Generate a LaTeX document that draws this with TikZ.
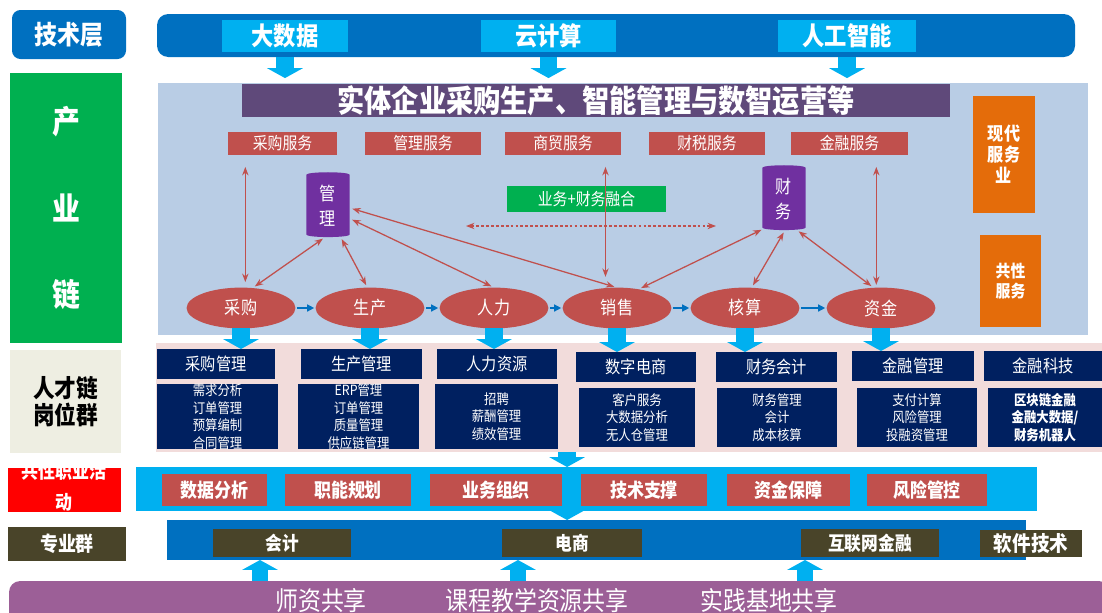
\documentclass[tikz,border=0pt]{standalone}
\usepackage{fontspec}
\setmainfont{Noto Sans CJK SC}[FakeStretch=0.88]
\usetikzlibrary{arrows.meta, positioning, fit, shapes.geometric}

\definecolor{techblue}{HTML}{0070C0}
\definecolor{skyblue}{HTML}{00B0F0}
\definecolor{panelblue}{HTML}{B9CDE5}
\definecolor{titlepurple}{HTML}{5F497A}
\definecolor{servred}{HTML}{C0504D}
\definecolor{servorange}{HTML}{E46C0A}
\definecolor{fusegreen}{HTML}{00B050}
\definecolor{cylpurple}{HTML}{7030A0}
\definecolor{jobpink}{HTML}{F2DCDB}
\definecolor{jobnavy}{HTML}{002060}
\definecolor{majorolive}{HTML}{494429}
\definecolor{talentgray}{HTML}{EEEEE2}
\definecolor{sharepurple}{HTML}{9C5F97}

\newcommand{\fsz}[2]{\fontsize{#1}{#2}\selectfont}

\begin{document}
\begin{tikzpicture}[x=0.025cm, y=-0.025cm,
  plainbox/.style={inner sep=0pt, outer sep=0pt, align=center, text=white},
  servbox/.style={plainbox, fill=servred},
  servtext/.style={plainbox, font=\fsz{12pt}{14pt}},
  toptext/.style={plainbox, font=\bfseries\fsz{18pt}{20pt}},
  ringnode/.style={plainbox, ellipse, fill=servred, minimum width=2.72cm, minimum height=1.02cm, font=\fsz{13pt}{15pt}},
  datanode/.style={plainbox, cylinder, shape border rotate=90, aspect=0.3, fill=cylpurple, minimum width=1.08cm, minimum height=1.62cm, font=\fsz{13pt}{17.5pt}},
  jobhead/.style={plainbox, fill=jobnavy},
  headtext/.style={plainbox, font=\fsz{12.3pt}{14pt}},
  jobdetail/.style={plainbox, fill=jobnavy},
  detailtext/.style={plainbox, font=\fsz{10pt}{12.5pt}},
  actbox/.style={plainbox, fill=servred},
  acttext/.style={plainbox, font=\bfseries\fsz{13.7pt}{16pt}},
  majorbox/.style={plainbox, fill=majorolive},
  majortext/.style={plainbox, font=\bfseries\fsz{13.5pt}{16pt}},
  blockarrow/.style={draw=skyblue, line width=12.5pt, -{Triangle[width=25pt, length=7pt]}},
  flowarrow/.style={draw=techblue, line width=1pt, -{Triangle[width=5pt, length=5pt]}, shorten <=1pt, shorten >=1pt},
  linkarrow/.style={draw=servred, line width=0.9pt, {Stealth[length=6pt, width=4.5pt]}-{Stealth[length=6pt, width=4.5pt]}, shorten <=2pt, shorten >=2pt},
]
\useasboundingbox (0,0) rectangle (1102,612);

% left column
\node[plainbox, fill=techblue, rounded corners=6pt, fit={(12,10)(126,59)},
  label={[plainbox, font=\bfseries\fsz{18.5pt}{20pt}]center:技术层}] (tech) {};
\node[plainbox, fill=fusegreen, fit={(10,73)(122,343)},
  label={[plainbox, font=\bfseries\fsz{22.5pt}{61.7pt}]center:产\\业\\链}] (chain) {};
\node[plainbox, fill=talentgray, fit={(10,350)(121,453)},
  label={[plainbox, text=black, font=\bfseries\fsz{17.5pt}{19.5pt}]center:人才链\\岗位群}] (talent) {};
\node[plainbox, fill=red, fit={(8,468)(121,512)}] (act) {};
\node[plainbox, font=\bfseries\fsz{13.7pt}{22pt}] (acttxt) at (64,487) {共性职业活\\动};
\node[plainbox, fill=majorolive, fit={(8,527)(126,561)},
  label={[plainbox, font=\bfseries\fsz{14.5pt}{16pt}]center:专业群}] (major) {};

% technology layer
\node[plainbox, fill=techblue, rounded corners=8pt, fit={(157,14)(1075,57)}] (topbar) {};
\node[plainbox, fill=skyblue, fit={(222,20)(348,52)}, label={[toptext]center:大数据}] (bigdata) {};
\node[plainbox, fill=skyblue, fit={(481,20)(616,52)}, label={[toptext]center:云计算}] (cloud) {};
\node[plainbox, fill=skyblue, fit={(778,20)(916,52)}, label={[toptext]center:人工智能}] (ai) {};

% industry chain panel
\node[plainbox, fill=panelblue, fit={(158,83)(1088,335)}] (panel) {};
\foreach \t in {bigdata, cloud, ai}
  \draw[blockarrow, shorten >=3.5pt] (\t.south |- topbar.south) -- (\t.south |- panel.north);
\node[plainbox, fill=titlepurple, fit={(242,84)(950,117)},
  label={[plainbox, font=\bfseries\fsz{22pt}{24pt}]center:实体企业采购生产、智能管理与数智运营等}] (title) {};

\node[servbox, fit={(228,132)(337,155)}, label={[servtext]center:采购服务}] (cgfw) {};
\node[servbox, fit={(365,132)(481,155)}, label={[servtext]center:管理服务}] (glfw) {};
\node[servbox, fit={(505,132)(621,155)}, label={[servtext]center:商贸服务}] (smfw) {};
\node[servbox, fit={(649,132)(765,155)}, label={[servtext]center:财税服务}] (csfw) {};
\node[servbox, fit={(791,132)(908,155)}, label={[servtext]center:金融服务}] (jrfw) {};

\node[plainbox, fill=servorange, fit={(973,96)(1035,213)},
  label={[plainbox, font=\bfseries\fsz{13pt}{15pt}]center:现代\\服务\\业}] (modern) {};
\node[plainbox, fill=servorange, fit={(980,235)(1041,327)},
  label={[plainbox, font=\bfseries\fsz{12pt}{14.5pt}]center:共性\\服务}] (common) {};

\node[plainbox, fill=fusegreen, fit={(507,186)(666,212)}, label={[servtext]center:业务+财务融合}] (fuse) {};
\coordinate (fuseL) at (466,226);
\coordinate (fuseR) at (716,226);
\draw[servred, line width=0.8pt, dash pattern=on 2pt off 1.5pt, {Stealth[length=6pt, width=4.5pt]}-{Stealth[length=6pt, width=4.5pt]}] (fuseL) -- (fuseR);

\node[datanode] (mgmt) at (328,206) {管\\理};
\node[datanode] (fin) at (784,199) {财\\务};

\node[ringnode] (cg) at (241,308) {采购};
\node[ringnode] (sc) at (370,308) {生产};
\node[ringnode] (rl) at (494,308) {人力};
\node[ringnode] (xs) at (617,308) {销售};
\node[ringnode] (hs) at (745,308) {核算};
\node[ringnode] (zj) at (881,308) {资金};

\foreach \a/\b in {cg/sc, sc/rl, rl/xs, xs/hs, hs/zj}
  \draw[flowarrow] (\a) -- (\b);

% links to management and finance
\draw[linkarrow, shorten <=8.5pt, shorten >=4pt] (cgfw.south -| cg.78) -- (cg.78);
\draw[linkarrow] (mgmt.-95) -- (cg.60);
\draw[linkarrow] (mgmt.-68) -- (sc.97);
\draw[linkarrow] (mgmt.-30) -- (rl.north);
\draw[linkarrow] (mgmt.-5) -- (xs.north);
\draw[linkarrow, shorten <=8.5pt, shorten >=8pt] (smfw.south -| xs.120) -- (xs.120);
\draw[linkarrow] (xs.41) -- (fin.-124);
\draw[linkarrow] (hs.72) -- (fin.-88);
\draw[linkarrow] (fin.-68) -- (zj.110);
\draw[linkarrow, shorten <=8.5pt] (jrfw.south -| zj.103) -- (zj.103);

% talent chain posts
\node[plainbox, fill=jobpink, fit={(156,343)(1102,452)}] (jobband) {};
\node[jobhead, fit={(157,349)(275,379)}, label={[headtext]center:采购管理}] (cgh) {};
\node[jobhead, fit={(301,349)(422,379)}, label={[headtext]center:生产管理}] (sch) {};
\node[jobhead, fit={(437,349)(557,379)}, label={[headtext]center:人力资源}] (rlh) {};
\node[jobhead, fit={(576,352)(696,382)}, label={[headtext]center:数字电商}] (dsh) {};
\node[jobhead, fit={(716,352)(837,382)}, label={[headtext]center:财务会计}] (cwh) {};
\node[jobhead, fit={(852,351)(974,381)}, label={[headtext]center:金融管理}] (jrh) {};
\node[jobhead, fit={(984,351)(1102,381)}, label={[headtext]center:金融科技}] (kjh) {};

\node[jobdetail, fit={(157,384)(278,449)}, label={[detailtext]center:需求分析\\订单管理\\预算编制\\合同管理}] (cgd) {};
\node[jobdetail, fit={(298,384)(419,449)}, label={[detailtext]center:ERP管理\\订单管理\\质量管理\\供应链管理}] (scd) {};
\node[jobdetail, fit={(435,384)(558,449)}, label={[detailtext]center:招聘\\薪酬管理\\绩效管理}] (rld) {};
\node[jobdetail, fit={(579,388)(695,447)}, label={[detailtext]center:客户服务\\大数据分析\\无人仓管理}] (dsd) {};
\node[jobdetail, fit={(717,388)(837,447)}, label={[detailtext]center:财务管理\\会计\\成本核算}] (cwd) {};
\node[jobdetail, fit={(857,388)(977,447)}, label={[detailtext]center:支付计算\\风险管理\\投融资管理}] (jrd) {};
\node[jobdetail, fit={(988,388)(1102,447)}, label={[detailtext, font=\bfseries\fsz{10pt}{12.5pt}]center:区块链金融\\金融大数据/\\财务机器人}] (kjd) {};

\foreach \r/\h in {cg/cgh, sc/sch, rl/rlh, xs/dsh, hs/cwh, zj/jrh}
  \draw[blockarrow] (\r.south) -- (\r.south |- \h.north);

% common activities
\node[plainbox, fill=skyblue, fit={(136,467)(1037,511)}] (actband) {};
\node[actbox, fit={(162,474)(267,506)}, label={[acttext]center:数据分析}] (sjfx) {};
\node[actbox, fit={(285,474)(411,506)}, label={[acttext]center:职能规划}] (zngh) {};
\node[actbox, fit={(430,474)(562,506)}, label={[acttext]center:业务组织}] (ywzz) {};
\node[actbox, fit={(581,474)(707,506)}, label={[acttext]center:技术支撑}] (jszc) {};
\node[actbox, fit={(727,474)(850,506)}, label={[acttext]center:资金保障}] (zjbz) {};
\node[actbox, fit={(867,474)(987,506)}, label={[acttext]center:风险管控}] (fxgk) {};

% majors
\node[plainbox, fill=techblue, fit={(167,520)(1026,560)}] (majband) {};
\node[majorbox, fit={(213,529)(351,557)}, label={[majortext]center:会计}] (kj) {};
\node[majorbox, fit={(502,529)(642,557)}, label={[majortext]center:电商}] (ds) {};
\node[majorbox, fit={(801,529)(939,557)}, label={[majortext]center:互联网金融}] (hljr) {};
\node[majorbox, fit={(980,530)(1082,557)}, label={[majortext, font=\bfseries\fsz{15pt}{16pt}]center:软件技术}] (rjjs) {};

\draw[blockarrow] ([xshift=-3.5pt]ds.north |- jobband.south) -- ([xshift=-3.5pt]ds.north |- actband.north);
\draw[blockarrow] ([xshift=-3.5pt]ds.north |- actband.south) -- ([xshift=-3.5pt]ds.north |- majband.north);

% shared resources
\node[plainbox, fill=sharepurple, rounded corners=8pt, fit={(9,581)(1110,640)}] (shareband) {};
\node[plainbox, font=\fsz{18.5pt}{20pt}] (teacher) at (321,601) {师资共享};
\node[plainbox, font=\fsz{18.5pt}{20pt}] (course) at (537,601) {课程教学资源共享};
\node[plainbox, font=\fsz{18.5pt}{20pt}] (practice) at (769,601) {实践基地共享};

\coordinate (up1) at (260,581);
\coordinate (up2) at (518,581);
\coordinate (up3) at (805,581);
\foreach \u in {up1, up2, up3}
  \draw[blockarrow, line width=11.5pt] (\u) -- (\u |- majband.south);
\end{tikzpicture}
\end{document}
